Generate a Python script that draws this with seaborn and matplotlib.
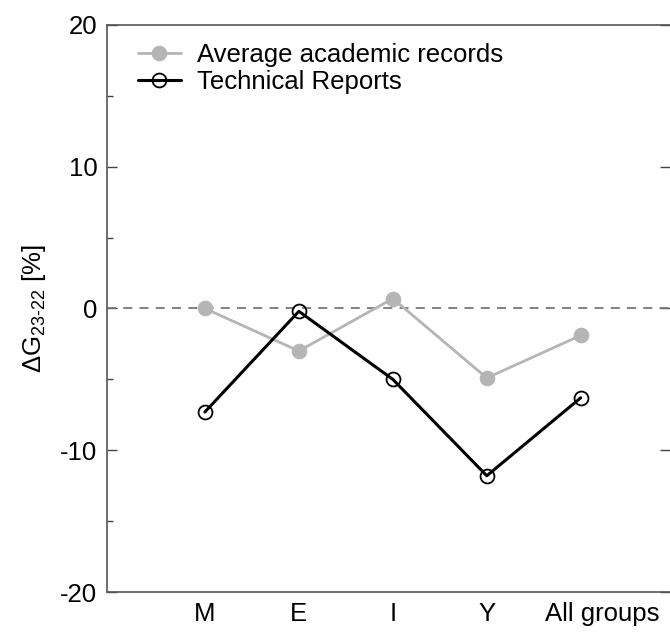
import matplotlib
matplotlib.use("Agg")
import matplotlib.pyplot as plt
import matplotlib.transforms as mtransforms
import seaborn as sns
import pandas as pd
from matplotlib.ticker import MultipleLocator

# data
groups = ["M", "E", "I", "Y", "All groups"]
academic = [0.0, -3.0, 0.7, -4.9, -1.9]
technical = [-7.3, -0.2, -5.0, -11.8, -6.3]

sns.set_theme(style="white")
plt.rcParams["font.family"] = ["Liberation Sans", "DejaVu Sans"]
plt.rcParams["axes.unicode_minus"] = False
plt.rcParams["text.color"] = "black"
plt.rcParams["axes.labelcolor"] = "black"
plt.rcParams["xtick.color"] = "black"
plt.rcParams["ytick.color"] = "black"
plt.rcParams["mathtext.fontset"] = "custom"
plt.rcParams["mathtext.rm"] = "Liberation Sans"
plt.rcParams["mathtext.it"] = "Liberation Sans"

df = pd.DataFrame({"pos": range(len(groups)), "academic": academic, "technical": technical})

fig = plt.figure(figsize=(6.7, 6.35), dpi=100)
ax = fig.add_axes([0.16, 0.0677, 0.84, 0.893])

ax.axhline(0, color="#777777", lw=1.3, ls=(0, (5, 4)), zorder=1)

sns.lineplot(data=df, x="pos", y="academic", ax=ax, color="#b5b5b5", lw=2,
             marker="o", markersize=10.5, markeredgecolor="#b5b5b5",
             label="Average academic records", zorder=2)
sns.lineplot(data=df, x="pos", y="technical", ax=ax, color="black", lw=2.2,
             marker="o", markersize=10, markerfacecolor="none",
             markeredgecolor="black", markeredgewidth=1.3,
             label="Technical Reports", zorder=3)

ax.set_xlim(-1.04, 4.95)
ax.set_ylim(-20, 20)
ax.set_xticks(range(len(groups)))
ax.set_xticklabels(groups)
ax.set_xlabel("")
ax.set_ylabel(r"$\mathregular{\Delta}$G$_{\mathregular{23\text{-}22}}$ [%]", fontsize=18.5, labelpad=9)

ax.yaxis.set_major_locator(MultipleLocator(10))
ax.yaxis.set_minor_locator(MultipleLocator(5))
ax.tick_params(axis="y", which="major", direction="in", length=7, width=1,
               color="#444444", labelsize=18.5, right=True, left=True, pad=7)
ax.tick_params(axis="y", which="minor", direction="in", length=4, width=1,
               color="#444444", right=False, left=True)
ax.tick_params(axis="x", length=0, labelsize=18.5, pad=7)

for side in ["left", "bottom", "top"]:
    ax.spines[side].set_color("#555555")
    ax.spines[side].set_linewidth(1.2)
ax.spines["right"].set_visible(False)

leg = ax.legend(loc="upper left", frameon=False, fontsize=18.5,
                handlelength=1.7, handletextpad=0.6, borderaxespad=0.3,
                labelspacing=0.12, bbox_to_anchor=(0.022, 1.0))

# the "All groups" label sits a bit right of its tick in the original
# (done after tick_params, which rebuilds the ticks)
shift = mtransforms.ScaledTranslation(0.22, 0, fig.dpi_scale_trans)
last = ax.xaxis.get_major_ticks()[-1].label1
last.set_transform(last.get_transform() + shift)

fig.savefig("out.png", dpi=100)
